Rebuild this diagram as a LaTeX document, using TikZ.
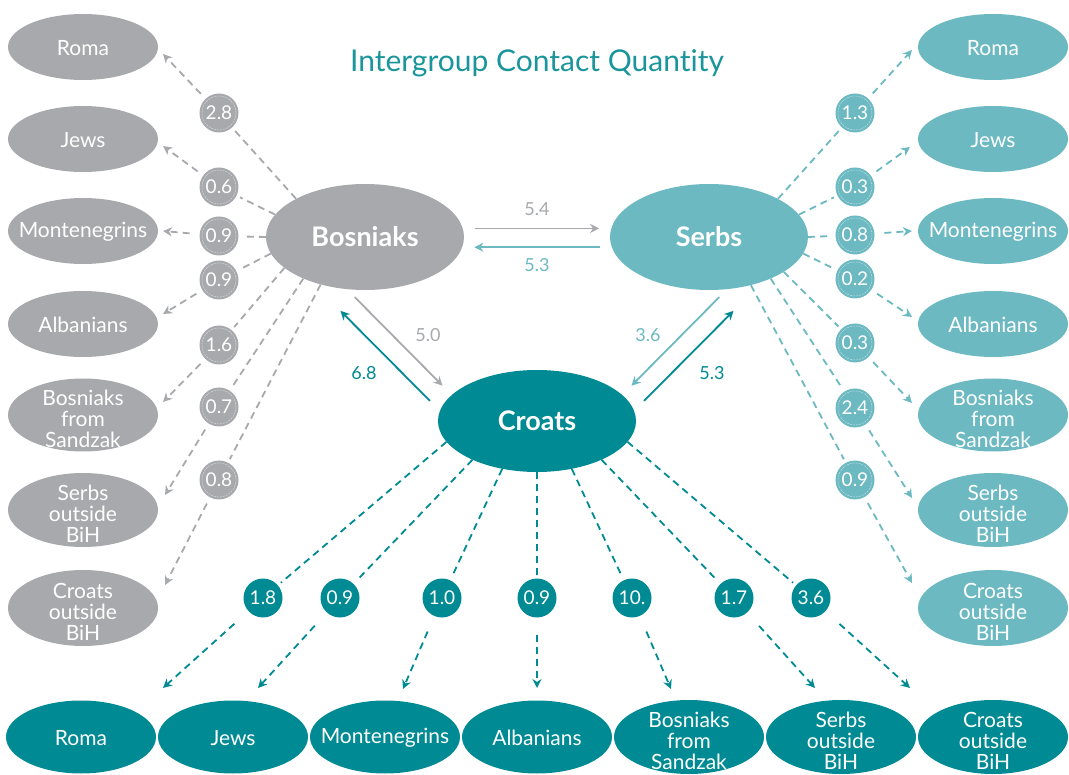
\documentclass[tikz,border=0pt]{standalone}
\usepackage{fontspec}
\setmainfont{Lato}[Ligatures=NoCommon]
\usetikzlibrary{shapes.geometric,arrows.meta}
\definecolor{bgray}{HTML}{A7A9AC}
\definecolor{lteal}{HTML}{6CB9C2}
\definecolor{dteal}{HTML}{008A93}
\definecolor{tteal}{HTML}{1A959C}

\begin{document}
\begin{tikzpicture}[x=1pt,y=-1pt,
    main/.style={ellipse,fill=#1,minimum width=198pt,minimum height=106pt,inner sep=0pt,
      text=white,font=\fontsize{27}{27}\selectfont\bfseries},
    blob/.style={ellipse,fill=#1,minimum width=150pt,minimum height=66pt,inner sep=0pt},
    txt/.style={text=white,align=center,font=\fontsize{21}{21}\selectfont},
    group/.style 2 args={blob=#1,label={[txt,yshift=-1pt]center:#2}},
    tall/.style 2 args={blob=#1,minimum height=74pt,label={[txt,yshift=-4pt]center:#2}},
    num/.style={circle,fill=#1,minimum size=39pt,inner sep=0pt,outer sep=4pt,
      text=white,font=\fontsize{19}{19}\selectfont},
    ring/.style={path picture={\draw[white,opacity=.6,line width=.4pt,dash pattern=on 2pt off 1pt]
      (path picture bounding box.center) circle (17pt);}},
    val/.style={text=#1,font=\fontsize{18}{18}\selectfont},
    link/.style={draw=#1,line width=1.8pt,dash pattern=on 7pt off 5pt,-{Stealth[length=9pt,width=9pt]}},
    flow/.style={draw=#1,line width=1.8pt,-{Stealth[length=9pt,width=9pt]}}]
  \useasboundingbox (0,0) rectangle (1069,775);

  \node[text=tteal,font=\fontsize{30}{30}\selectfont] (title) at (537,63) {Intergroup Contact Quantity};

  % the three groups in the middle
  \node[main=bgray] (bos) at (365,237) {Bosniaks};
  \node[main=lteal] (ser) at (709,237) {Serbs};
  \node[main=dteal,minimum height=102pt] (cro) at (537,421) {Croats};

  % left column
  \node[group={bgray}{Roma}] (lroma) at (83,47) {};
  \node[group={bgray}{Jews}] (ljews) at (83,139) {};
  \node[group={bgray}{Montenegrins}] (lmont) at (83,231) {};
  \node[group={bgray}{Albanians}] (lalb) at (83,324) {};
  \node[tall={bgray}{Bosniaks\\from\\Sandzak},minimum height=73pt] (lsan) at (83,415) {};
  \node[tall={bgray}{Serbs\\outside\\BiH}] (lsrb) at (83,510) {};
  \node[tall={bgray}{Croats\\outside\\BiH},minimum height=76pt] (lcro) at (83,608) {};

  % right column
  \node[group={lteal}{Roma}] (rroma) at (993,47) {};
  \node[group={lteal}{Jews}] (rjews) at (993,139) {};
  \node[group={lteal}{Montenegrins}] (rmont) at (993,231) {};
  \node[group={lteal}{Albanians}] (ralb) at (993,324) {};
  \node[tall={lteal}{Bosniaks\\from\\Sandzak},minimum height=73pt] (rsan) at (993,415) {};
  \node[tall={lteal}{Serbs\\outside\\BiH}] (rsrb) at (993,510) {};
  \node[tall={lteal}{Croats\\outside\\BiH},minimum height=76pt] (rcro) at (993,608) {};

  % bottom row
  \node[group={dteal}{Roma},minimum height=73pt] (broma) at (81,737) {};
  \node[group={dteal}{Jews},minimum height=73pt] (bjews) at (233,737) {};
  \node[group={dteal}{Montenegrins},minimum height=73pt] (bmont) at (385,737) {};
  \node[group={dteal}{Albanians},minimum height=73pt] (balb) at (537,737) {};
  \node[tall={dteal}{Bosniaks\\from\\Sandzak},minimum height=74pt] (bsan) at (689,737) {};
  \node[tall={dteal}{Serbs\\outside\\BiH},minimum height=74pt] (bsrb) at (841,737) {};
  \node[tall={dteal}{Croats\\outside\\BiH},minimum height=74pt] (bcro) at (993,737) {};

  % arrow ends
  \coordinate (lt1) at (163,54);  \coordinate (lt2) at (163,146);
  \coordinate (lt3) at (163,231); \coordinate (lt4) at (163,314);
  \coordinate (lt5) at (163,402); \coordinate (lt6) at (165,495);
  \coordinate (lt7) at (165,585);
  \coordinate (rt1) at (912,50);  \coordinate (rt2) at (910,147);
  \coordinate (rt3) at (912,231); \coordinate (rt4) at (912,317);
  \coordinate (rt5) at (912,403); \coordinate (rt6) at (912,498);
  \coordinate (rt7) at (912,583);
  \coordinate (bt1) at (163,688); \coordinate (bt2) at (258,688);
  \coordinate (bt3) at (403,689); \coordinate (bt4) at (537,688);
  \coordinate (bt5) at (671,689); \coordinate (bt6) at (815,688);
  \coordinate (bt7) at (910,688);

  % values, Bosniaks
  \node[num=bgray,ring] (l1) at (219,113) {2.8};
  \node[num=bgray,ring] (l2) at (219,187) {0.6};
  \node[num=bgray,ring] (l3) at (219,236) {0.9};
  \node[num=bgray,ring] (l4) at (219,280) {0.9};
  \node[num=bgray,ring] (l5) at (219,345) {1.6};
  \node[num=bgray,ring] (l6) at (219,407) {0.7};
  \node[num=bgray,ring] (l7) at (219,480) {0.8};

  % values, Serbs
  \node[num=lteal,ring] (r1) at (855,113) {1.3};
  \node[num=lteal,ring] (r2) at (855,187) {0.3};
  \node[num=lteal,ring] (r3) at (855,235) {0.8};
  \node[num=lteal,ring] (r4) at (855,279) {0.2};
  \node[num=lteal,ring] (r5) at (855,343) {0.3};
  \node[num=lteal,ring] (r6) at (855,408) {2.4};
  \node[num=lteal,ring] (r7) at (855,480) {0.9};

  % values, Croats
  \node[num=dteal] (b1) at (263,598) {1.8};
  \node[num=dteal] (b2) at (340,598) {0.9};
  \node[num=dteal] (b3) at (442,598) {1.0};
  \node[num=dteal] (b4) at (537,598) {0.9};
  \node[num=dteal] (b5) at (632,598) {10.};
  \node[num=dteal] (b6) at (734,598) {1.7};
  \node[num=dteal] (b7) at (811,598) {3.6};

  \draw[link=bgray,shorten <=3pt] (bos.151) -- (l1) -- (lt1);
  \draw[link=bgray,shorten <=3pt] (bos.166) -- (l2) -- (lt2);
  \draw[link=bgray,shorten <=6pt] (bos.180) -- (l3) -- (lt3);
  \draw[link=bgray,shorten <=3pt] (bos.190) -- (l4) -- (lt4);
  \draw[link=bgray,shorten <=3pt] (bos.201) -- (l5) -- (lt5);
  \draw[link=bgray,shorten <=3pt] (bos.214) -- (l6) -- (lt6);
  \draw[link=bgray,shorten <=3pt] (bos.227) -- (l7) -- (lt7);

  \draw[link=lteal,shorten <=3pt] (ser.29) -- (r1) -- (rt1);
  \draw[link=lteal,shorten <=3pt] (ser.14) -- (r2) -- (rt2);
  \draw[link=lteal,shorten <=6pt] (ser.0) -- (r3) -- (rt3);
  \draw[link=lteal,shorten <=3pt] (ser.-10) -- (r4) -- (rt4);
  \draw[link=lteal,shorten <=3pt] (ser.-25) -- (r5) -- (rt5);
  \draw[link=lteal,shorten <=3pt] (ser.-34) -- (r6) -- (rt6);
  \draw[link=lteal,shorten <=3pt] (ser.-49) -- (r7) -- (rt7);

  \draw[link=dteal,shorten <=15pt] (cro.193) -- (b1) -- (bt1);
  \draw[link=dteal,shorten <=14pt] (cro.211) -- (b2) -- (bt2);
  \draw[link=dteal,shorten <=13pt] (cro.234) -- (b3) -- (bt3);
  \draw[link=dteal,shorten <=13pt] (cro.270) -- (b4) -- (bt4);
  \draw[link=dteal,shorten <=13pt] (cro.306) -- (b5) -- (bt5);
  \draw[link=dteal,shorten <=14pt] (cro.329) -- (b6) -- (bt6);
  \draw[link=dteal,shorten <=15pt] (cro.347) -- (b7) -- (bt7);

  % between the three groups
  \draw[flow=bgray,shorten <=12pt,shorten >=12pt] (bos.5) -- (ser.175);
  \draw[flow=lteal,shorten <=12pt,shorten >=12pt] (ser.186) -- (bos.354);
  \draw[flow=bgray,shorten <=11pt,shorten >=13pt] (bos.251) -- (cro.163);
  \draw[flow=dteal,shorten <=14pt,shorten >=41pt] (cro.174) -- (bos.220);
  \draw[flow=lteal,shorten <=11pt,shorten >=13pt] (ser.289) -- (cro.17);
  \draw[flow=dteal,shorten <=14pt,shorten >=41pt] (cro.6) -- (ser.320);

  \node[val=bgray] (v1) at (537,209) {5.4};
  \node[val=lteal] (v2) at (537,265) {5.3};
  \node[val=bgray] (v3) at (428,335) {5.0};
  \node[val=dteal] (v4) at (364,373) {6.8};
  \node[val=lteal] (v5) at (648,335) {3.6};
  \node[val=dteal] (v6) at (712,373) {5.3};
\end{tikzpicture}
\end{document}
